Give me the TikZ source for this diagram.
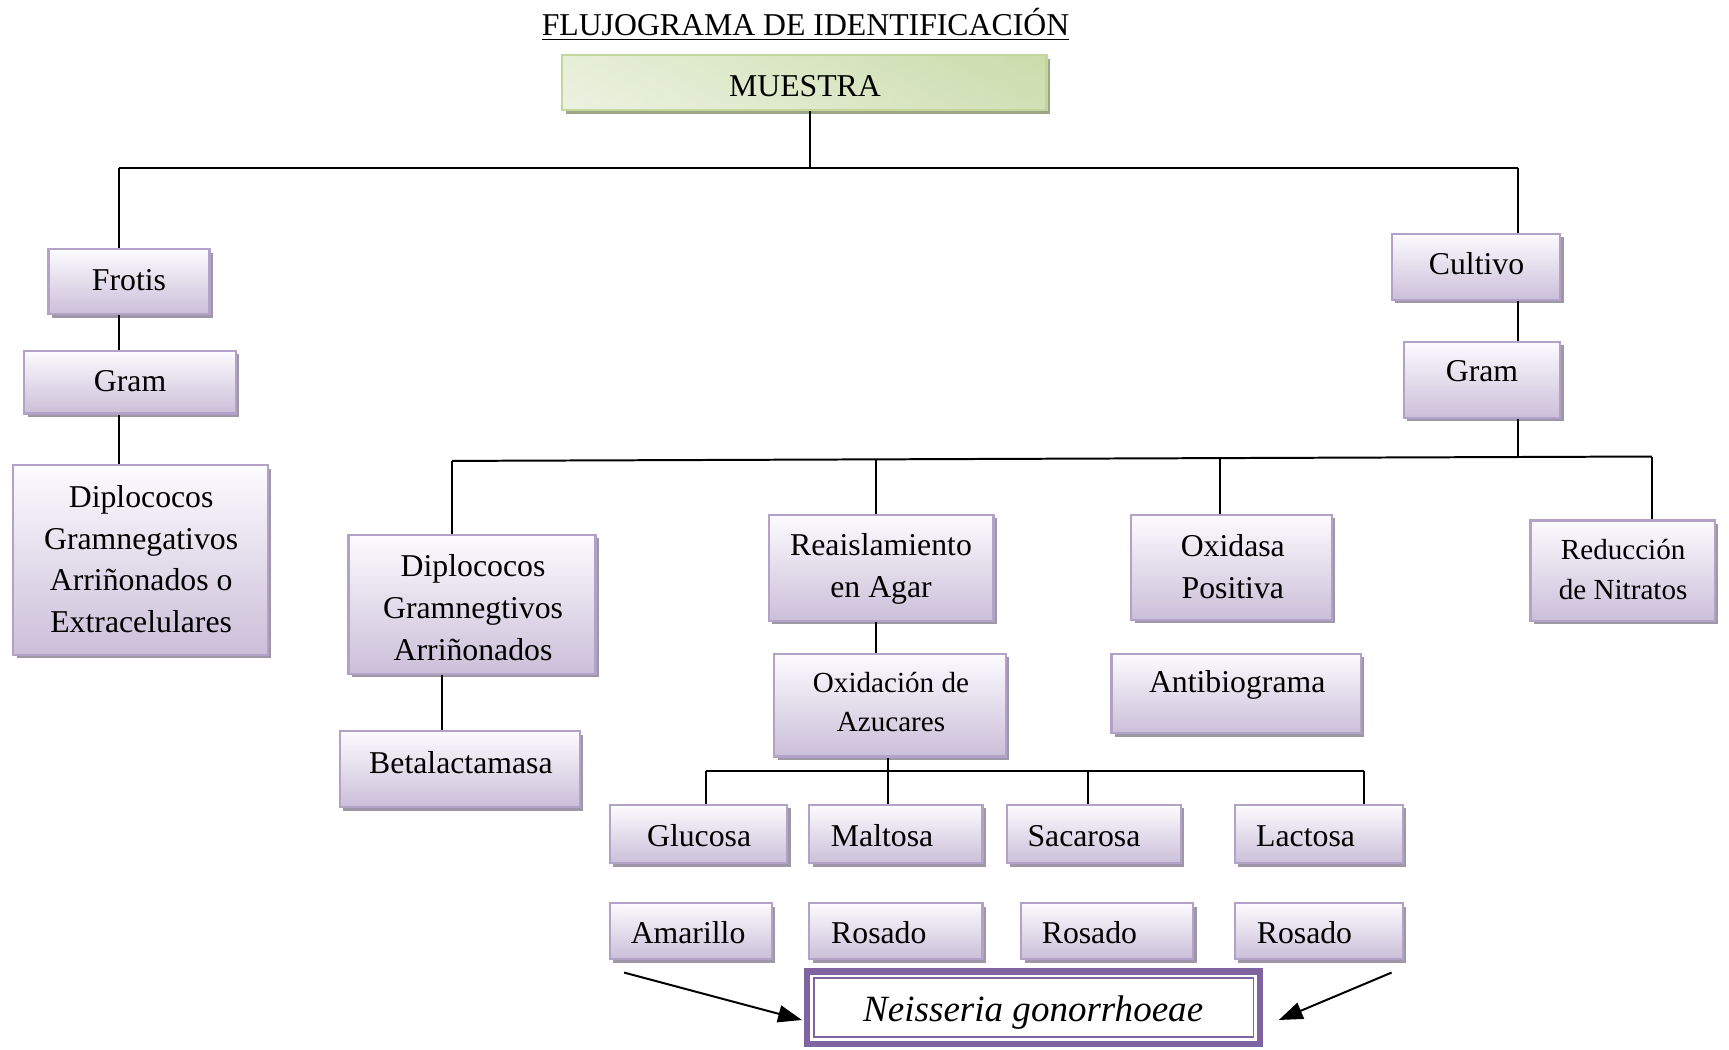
\documentclass[tikz,border=0pt]{standalone}
\usepackage{fontspec}
\setmainfont{Liberation Serif}
\usetikzlibrary{fit,shadows,arrows.meta}
\definecolor{lavtop}{HTML}{FCFBFE}
\definecolor{lavbot}{HTML}{CBBFD9}
\definecolor{lavline}{HTML}{B3A2C7}
\definecolor{lavshadow}{HTML}{9D97A6}
\definecolor{grT}{HTML}{D2E1B6}
\definecolor{grM}{HTML}{EFF4E6}
\definecolor{grB}{HTML}{DDE8CA}
\definecolor{grR}{HTML}{C3D89E}
\definecolor{grline}{HTML}{C3D69B}
\definecolor{grshadow}{HTML}{9EA688}
\definecolor{purp}{HTML}{8064A2}
\begin{document}
\begin{tikzpicture}[x=0.41667pt,y=-0.41667pt,
  pbox/.style={draw=lavline, line width=0.8pt, top color=lavtop, bottom color=lavbot, inner sep=0pt,
    drop shadow={shadow xshift=1.3pt, shadow yshift=-1.3pt, fill=lavshadow, opacity=1}},
  gbox/.style={draw=grline, line width=0.8pt, top color=grT, middle color=grM, bottom color=grB, inner sep=0pt,
    drop shadow={shadow xshift=1.3pt, shadow yshift=-1.3pt, fill=grshadow, opacity=1},
    path picture={\shade[left color=white, right color=grR, opacity=0.45]
      (path picture bounding box.south west) rectangle (path picture bounding box.north east);}},
  nbox/.style={draw=purp, line width=2.3pt, fill=white, inner sep=0pt},
  txt/.style={align=center, font=\fontsize{12}{15.8}\selectfont, inner sep=0pt},
  stxt/.style={align=center, font=\fontsize{11}{14.8}\selectfont, inner sep=0pt},
  conn/.style={line width=0.75pt, black},
  arr/.style={line width=0.75pt, black, -{Triangle[length=9pt,width=6.5pt]}}
]
\useasboundingbox (0,0) rectangle (1568,952);
\fill[white] (0,0) rectangle (1568,952);

% title
\node[txt] (title) at (730.5,22) {\underline{FLUJOGRAMA DE IDENTIFICACIÓN}};

% boxes
\node[gbox, fit={(510,50)(949,100)}] (muestra) {};
\node[txt] (muestra-t) at (730,78) {MUESTRA};

\node[pbox, fit={(44,226)(190,285)}] (frotis) {};
\node[txt] (frotis-t) at (117,254) {Frotis};
\node[pbox, fit={(22,318)(214,375)}] (gramL) {};
\node[txt] (gramL-t) at (118,346) {Gram};
\node[pbox, fit={(12,422)(243,594)}] (dipL) {};
\node[txt] (dipL-t) at (128,507) {Diplococos\\Gramnegativos\\Arriñonados o\\Extracelulares};

\node[pbox, fit={(1262,212)(1415,272)}] (cultivo) {};
\node[txt] (cultivo-t) at (1339,239) {Cultivo};
\node[pbox, fit={(1273,310)(1415,379)}] (gramR) {};
\node[txt] (gramR-t) at (1344,337) {Gram};

\node[pbox, fit={(316,485)(540,611)}] (dip2) {};
\node[txt] (dip2-t) at (429,551) {Diplococos\\Gramnegtivos\\Arriñonados};
\node[pbox, fit={(308,663)(526,732)}] (beta) {};
\node[txt] (beta-t) at (418,692) {Betalactamasa};

\node[pbox, fit={(697,467)(901,563)}] (reais) {};
\node[txt] (reais-t) at (799,516) {Reaislamiento\\en Agar};
\node[pbox, fit={(702,593)(912,686)}] (oxid) {};
\node[stxt] (oxid-t) at (808,637) {Oxidación de\\Azucares};

\node[pbox, fit={(1026,467)(1208,562)}] (oxidasa) {};
\node[txt] (oxidasa-t) at (1118,514) {Oxidasa\\Positiva};
\node[pbox, fit={(1008,593)(1234,665)}] (antib) {};
\node[txt] (antib-t) at (1122,621) {Antibiograma};

\node[pbox, fit={(1388,472)(1555,563)}] (reduc) {};
\node[stxt] (reduc-t) at (1472,516.5) {Reducción\\de Nitratos};

\node[pbox, fit={(553,730)(714,783)}] (glu) {};
\node[txt] (glu-t) at (634,758) {Glucosa};
\node[pbox, fit={(734,730)(891,783)}] (mal) {};
\node[txt] (mal-t) at (800,758) {Maltosa};
\node[pbox, fit={(913,730)(1071,783)}] (sac) {};
\node[txt] (sac-t) at (983,758) {Sacarosa};
\node[pbox, fit={(1120,730)(1272,783)}] (lac) {};
\node[txt] (lac-t) at (1184,758) {Lactosa};

\node[pbox, fit={(553,819)(700,870)}] (ama) {};
\node[txt] (ama-t) at (624,846) {Amarillo};
\node[pbox, fit={(734,819)(891,870)}] (ros1) {};
\node[txt] (ros1-t) at (797,846) {Rosado};
\node[pbox, fit={(926,819)(1082,870)}] (ros2) {};
\node[txt] (ros2-t) at (988,846) {Rosado};
\node[pbox, fit={(1120,819)(1272,870)}] (ros3) {};
\node[txt] (ros3-t) at (1183,846) {Rosado};

\node[nbox, fit={(732,881)(1143,947)}] (neis) {};
\draw[purp, line width=0.7pt] ([shift={(9,9)}]neis.north west) rectangle ([shift={(-9,-9)}]neis.south east);
\node[inner sep=0pt, font=\fontsize{14}{16}\selectfont\itshape] (neis-t) at (937,918) {Neisseria gonorrhoeae};

% connectors
\coordinate (m0) at (735,152);
\coordinate (hL) at (108,152);
\coordinate (hR) at (1377,152);
\draw[conn] (m0 |- muestra.south) -- (m0);
\draw[conn] (hL) -- (hR);
\draw[conn] (hL) -- (hL |- frotis.north);
\draw[conn] (hR) -- (hR |- cultivo.north);
\draw[conn] (hL |- frotis.south) -- (hL |- gramL.north);
\draw[conn] (hL |- gramL.south) -- (hL |- dipL.north);
\draw[conn] (hR |- cultivo.south) -- (hR |- gramR.north);

\coordinate (kL) at (410,418);
\coordinate (kR) at (1498,414);
\coordinate (k2) at (794,416.6);
\coordinate (k3) at (1106,415.4);
\coordinate (k4) at (1377,414.4);
\draw[conn] (kL) -- (kR);
\draw[conn] (hR |- gramR.south) -- (k4);
\draw[conn] (kL) -- (kL |- dip2.north);
\draw[conn] (k2) -- (k2 |- reais.north);
\draw[conn] (k3) -- (k3 |- oxidasa.north);
\draw[conn] (kR) -- (kR |- reduc.north);

\coordinate (b1) at (401,0);
\draw[conn] (b1 |- dip2.south) -- (b1 |- beta.north);
\draw[conn] (k2 |- reais.south) -- (k2 |- oxid.north);

\coordinate (s1) at (640,699);
\coordinate (s2) at (805,699);
\coordinate (s3) at (987,699);
\coordinate (s4) at (1237,699);
\draw[conn] (s1) -- (s4);
\draw[conn] (s2 |- oxid.south) -- (s2 |- mal.north);
\draw[conn] (s1) -- (s1 |- glu.north);
\draw[conn] (s3) -- (s3 |- sac.north);
\draw[conn] (s4) -- (s4 |- lac.north);

\coordinate (a1) at (566,882);
\coordinate (a2) at (1262,882);
\draw[arr] (a1) -- ([shift={(-2,11)}]neis.west);
\draw[arr] (a2) -- ([shift={(14,11)}]neis.east);
\end{tikzpicture}
\end{document}
